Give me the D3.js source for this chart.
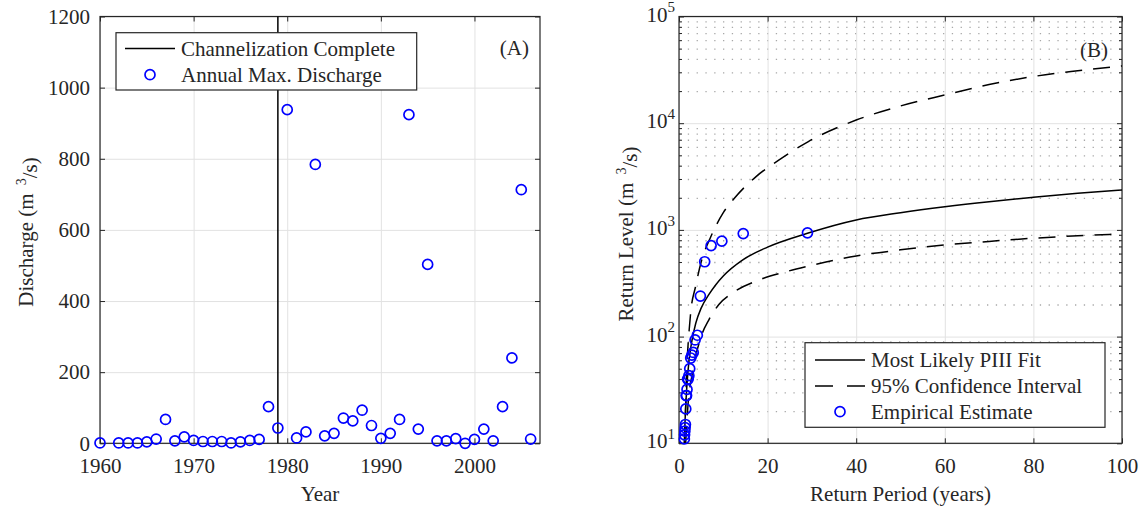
<!DOCTYPE html>
<html>
<head>
<meta charset="utf-8">
<script src="https://cdn.jsdelivr.net/npm/d3@7"></script>
<style>
    body { margin: 0; background: #fff; }
    svg { font-family: "Liberation Serif", "Times New Roman", serif; }
    .axis text { font-size: 21px; fill: #262626; font-family: "Liberation Serif", serif; }
    .axis line { stroke: #262626; }
    .axis path { display: none; }
    .grid line { stroke: #e2e2e2; stroke-width: 1; }
    .grid path { display: none; }
    .minor-grid line { stroke: #a8a8a8; stroke-width: 1.3; stroke-dasharray: 1.3, 7.5; }
    .minor-grid path { display: none; }
    .lbl { font-size: 21px; fill: #262626; }
</style>
</head>
<body>
<div id="chart"></div>
<script>

// ---- panel A: annual maximum discharge ----
const years = [1960, 1962, 1963, 1964, 1965, 1966, 1967, 1968, 1969, 1970,
    1971, 1972, 1973, 1974, 1975, 1976, 1977, 1978, 1979, 1980,
    1981, 1982, 1983, 1984, 1985, 1986, 1987, 1988, 1989, 1990,
    1991, 1992, 1993, 1994, 1995, 1996, 1997, 1998, 1999, 2000,
    2001, 2002, 2003, 2004, 2005, 2006];
const discharge = [1, 1, 1, 1, 4, 12, 67, 7, 18, 8,
    5, 5, 5, 1, 4, 8, 11, 103, 43, 938,
    15, 32, 784, 21, 28, 71, 63, 93, 50, 14,
    28, 67, 924, 40, 503, 7, 7, 13, 0, 11,
    40, 7, 103, 240, 713, 12];
const channelYear = 1979;
const yearTicks = [1960, 1970, 1980, 1990, 2000];
const dischargeTicks = [0, 200, 400, 600, 800, 1000, 1200];

// ---- panel B: return levels (post-channelization record) ----
const empiricalT = [29, 14.5, 9.67, 7.25, 5.8, 4.83, 4.14, 3.63, 3.22, 2.9,
    2.64, 2.42, 2.23, 2.07, 1.93, 1.81, 1.71, 1.61, 1.53, 1.45,
    1.38, 1.32, 1.26, 1.21];
const empiricalQ = [938, 924, 784, 713, 503, 240, 103, 93, 71, 67,
    63, 50, 43, 40, 40, 32, 28, 28, 21, 15,
    14, 13, 12, 11];

const fitT = [1.2, 1.35, 1.6, 2, 2.7, 3.8, 5, 6.8, 8.4, 10, 14.4, 20, 29, 40, 50, 60, 70, 80, 90, 100];
const fitQ = [10, 15.5, 26, 46, 81, 134, 185, 250, 310, 370, 524, 690, 930, 1240, 1450, 1650, 1840, 2020, 2200, 2370];

const upperT = [1.25, 1.5, 1.7, 2.05, 2.3, 2.7, 3.7, 5, 7.2, 10, 12.5, 17.4, 22.6, 29.2, 40, 50, 60, 70, 80, 90, 100];
const upperQ = [10, 22, 45, 84, 116, 178, 290, 500, 866, 1450, 1980, 3160, 4530, 6730, 10700, 14500, 18400, 23000, 27400, 31000, 34400];

const lowerT = [1.5, 2, 3, 5, 6.8, 9, 12.1, 18.1, 24.2, 28.7, 40, 50, 60, 70, 80, 90, 100];
const lowerQ = [10, 22, 45, 100, 145, 200, 257, 340, 406, 453, 570, 650, 723, 780, 836, 880, 917];

const periodTicks = [0, 20, 40, 60, 80, 100];
const levelTicks = [10, 100, 1000, 10000, 100000];

const BLUE = "#0000ff";
const INK = "#262626";

const svg = d3.select("#chart").append("svg")
    .attr("width", 1143)
    .attr("height", 510);

// frame helper: grid, inward ticks on all four sides, box
function drawFrame(box, x, y, xTicks, yTicks, opts) {
    let g = svg.append("g");
    let w = box.right - box.left, h = box.bottom - box.top;

    if (opts.minorY) {
        g.append("g")
            .attr("class", "minor-grid")
            .attr("transform", `translate(${box.left},0)`)
            .call(d3.axisLeft(y).tickValues(opts.minorY).tickSize(-w).tickFormat(""));
    }
    g.append("g")
        .attr("class", "grid")
        .attr("transform", `translate(0,${box.bottom})`)
        .call(d3.axisBottom(x).tickValues(xTicks).tickSize(-h).tickFormat(""));
    g.append("g")
        .attr("class", "grid")
        .attr("transform", `translate(${box.left},0)`)
        .call(d3.axisLeft(y).tickValues(yTicks).tickSize(-w).tickFormat(""));

    let xb = g.append("g")
        .attr("class", "axis")
        .attr("transform", `translate(0,${box.bottom})`)
        .call(d3.axisBottom(x).tickValues(xTicks).tickSize(-5).tickPadding(15).tickFormat(d3.format("d")));
    g.append("g")
        .attr("class", "axis")
        .attr("transform", `translate(0,${box.top})`)
        .call(d3.axisTop(x).tickValues(xTicks).tickSize(-5).tickFormat(""));

    let yl = g.append("g")
        .attr("class", "axis")
        .attr("transform", `translate(${box.left},0)`)
        .call(d3.axisLeft(y).tickValues(yTicks).tickSize(-5).tickPadding(opts.yPad).tickFormat(d3.format("d")));
    g.append("g")
        .attr("class", "axis")
        .attr("transform", `translate(${box.right},0)`)
        .call(d3.axisRight(y).tickValues(yTicks).tickSize(-5).tickFormat(""));

    if (opts.minorY) {
        g.append("g")
            .attr("class", "axis")
            .attr("transform", `translate(${box.left},0)`)
            .call(d3.axisLeft(y).tickValues(opts.minorY).tickSize(-3).tickFormat(""));
        g.append("g")
            .attr("class", "axis")
            .attr("transform", `translate(${box.right},0)`)
            .call(d3.axisRight(y).tickValues(opts.minorY).tickSize(-3).tickFormat(""));
    }

    g.append("rect")
        .attr("x", box.left)
        .attr("y", box.top)
        .attr("width", w)
        .attr("height", h)
        .attr("fill", "none")
        .attr("stroke", INK)
        .attr("stroke-width", 1.2);

    return {xb: xb, yl: yl};
}

function drawLegend(x0, y0, w, h, rows) {
    let g = svg.append("g");
    g.append("rect")
        .attr("x", x0).attr("y", y0)
        .attr("width", w).attr("height", h)
        .attr("fill", "#fff")
        .attr("stroke", INK)
        .attr("stroke-width", 1.2);
    rows.forEach(r => {
        let cy = y0 + r.dy;
        if (r.type === "circle") {
            g.append("circle")
                .attr("cx", x0 + r.sx + 25).attr("cy", cy).attr("r", 5)
                .attr("fill", "none").attr("stroke", BLUE).attr("stroke-width", 1.7);
        } else {
            g.append("line")
                .attr("x1", x0 + r.sx).attr("x2", x0 + r.sx + 50)
                .attr("y1", cy).attr("y2", cy)
                .attr("stroke", "#000").attr("stroke-width", 1.5)
                .attr("stroke-dasharray", r.type === "dash" ? "18,14" : null);
        }
        g.append("text")
            .attr("class", "lbl")
            .attr("x", x0 + r.sx + 56)
            .attr("y", cy + 7)
            .text(r.label);
    });
}

// ================= Panel A =================
const boxA = {left: 100, right: 540, top: 16.5, bottom: 443.3};
const xA = d3.scaleLinear().domain([1960, 2007]).range([boxA.left, boxA.right]);
const yA = d3.scaleLinear().domain([0, 1200]).range([boxA.bottom, boxA.top]);

drawFrame(boxA, xA, yA, yearTicks, dischargeTicks, {yPad: 10});

svg.append("line")
    .attr("x1", xA(channelYear)).attr("x2", xA(channelYear))
    .attr("y1", yA(1200)).attr("y2", yA(0))
    .attr("stroke", "#000")
    .attr("stroke-width", 1.5);

svg.append("g").selectAll("circle")
    .data(years.map((d, i) => ({year: d, q: discharge[i]})))
    .enter().append("circle")
    .attr("cx", d => xA(d.year))
    .attr("cy", d => yA(d.q))
    .attr("r", 5)
    .attr("fill", "none")
    .attr("stroke", BLUE)
    .attr("stroke-width", 1.7);

drawLegend(116, 32.7, 300.7, 57.3, [
    {type: "line", sx: 9, dy: 15.8, label: "Channelization Complete"},
    {type: "circle", sx: 9, dy: 42, label: "Annual Max. Discharge"}
]);

svg.append("text").attr("class", "lbl")
    .attr("x", 529).attr("y", 55).attr("text-anchor", "end").text("(A)");

svg.append("text").attr("class", "lbl")
    .attr("x", (boxA.left + boxA.right) / 2).attr("y", 501)
    .attr("text-anchor", "middle").text("Year");

let ylabA = svg.append("text").attr("class", "lbl")
    .attr("transform", "translate(33,232) rotate(-90)")
    .attr("text-anchor", "middle");
ylabA.append("tspan").text("Discharge (m ");
ylabA.append("tspan").attr("dy", "-0.5em").attr("dx", 3).style("font-size", "14px").text("3");
ylabA.append("tspan").attr("dy", "0.5em").text("/s)");

// ================= Panel B =================
const boxB = {left: 679, right: 1122, top: 16.5, bottom: 443.3};
const xB = d3.scaleLinear().domain([0, 100]).range([boxB.left, boxB.right]);
const yB = d3.scaleLog().domain([10, 100000]).range([boxB.bottom, boxB.top]);

let minorLevels = [];
levelTicks.slice(0, -1).forEach(dec => {
    for (let k = 2; k <= 9; k++) minorLevels.push(dec * k);
});

let frameB = drawFrame(boxB, xB, yB, periodTicks, levelTicks, {yPad: 4, minorY: minorLevels});

// 10^n labels with superscript exponent
frameB.yl.selectAll(".tick text")
    .attr("dy", "0.22em")
    .each(function (d) {
        let t = d3.select(this);
        t.text("10");
        t.append("tspan")
            .attr("dy", "-0.62em")
            .style("font-size", "15px")
            .text(Math.round(Math.log10(d)));
    });

svg.append("defs").append("clipPath")
    .attr("id", "clipB")
    .append("rect")
    .attr("x", boxB.left).attr("y", boxB.top)
    .attr("width", boxB.right - boxB.left)
    .attr("height", boxB.bottom - boxB.top);

const lineB = d3.line()
    .x(d => xB(d[0]))
    .y(d => yB(d[1]))
    .curve(d3.curveMonotoneX);

const curves = [
    {t: upperT, q: upperQ, dash: "17,11"},
    {t: lowerT, q: lowerQ, dash: "17,11"},
    {t: fitT, q: fitQ, dash: null}
];

svg.append("g")
    .attr("clip-path", "url(#clipB)")
    .selectAll("path")
    .data(curves)
    .enter().append("path")
    .attr("d", c => lineB(c.t.map((t, i) => [t, c.q[i]])))
    .attr("fill", "none")
    .attr("stroke", "#000")
    .attr("stroke-width", 1.5)
    .attr("stroke-dasharray", c => c.dash);

svg.append("g").selectAll("circle")
    .data(empiricalT.map((t, i) => ({t: t, q: empiricalQ[i]})).filter(d => d.q >= 10))
    .enter().append("circle")
    .attr("cx", d => xB(d.t))
    .attr("cy", d => yB(d.q))
    .attr("r", 5)
    .attr("fill", "none")
    .attr("stroke", BLUE)
    .attr("stroke-width", 1.7);

drawLegend(805, 342.7, 300, 84.6, [
    {type: "line", sx: 10, dy: 17.3, label: "Most Likely PIII Fit"},
    {type: "dash", sx: 10, dy: 43.3, label: "95% Confidence Interval"},
    {type: "circle", sx: 10, dy: 69, label: "Empirical Estimate"}
]);

svg.append("text").attr("class", "lbl")
    .attr("x", 1108).attr("y", 57).attr("text-anchor", "end").text("(B)");

svg.append("text").attr("class", "lbl")
    .attr("x", (boxB.left + boxB.right) / 2).attr("y", 501)
    .attr("text-anchor", "middle").text("Return Period (years)");

let ylabB = svg.append("text").attr("class", "lbl")
    .attr("transform", "translate(633,234) rotate(-90)")
    .attr("text-anchor", "middle");
ylabB.append("tspan").text("Return Level (m ");
ylabB.append("tspan").attr("dy", "-0.5em").attr("dx", 3).style("font-size", "14px").text("3");
ylabB.append("tspan").attr("dy", "0.5em").text("/s)");

</script>
</body>
</html>
